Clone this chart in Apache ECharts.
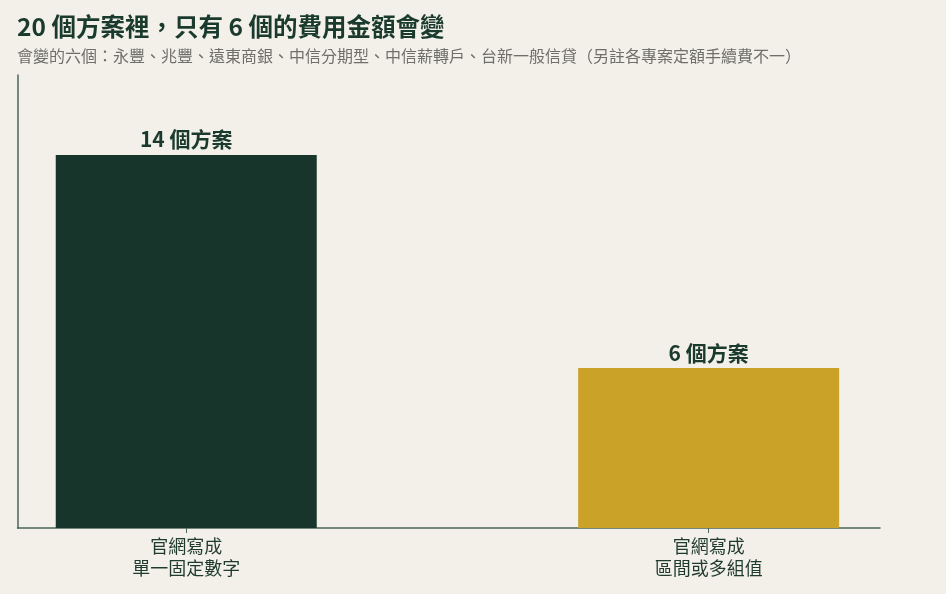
<!DOCTYPE html>
<html>
<head>
<meta charset="utf-8">
<script src="https://cdn.jsdelivr.net/npm/echarts@6/dist/echarts.min.js"></script>
<style>
html,body{margin:0;padding:0;background:#f3f0e9;}
#chart{width:946px;height:594px;}
</style>
</head>
<body>
<div id="chart"></div>
<script>
const categories = ['官網寫成\n單一固定數字', '官網寫成\n區間或多組值'];
const values = [14, 6];
const labelSuffix = ' 個方案';
const titleText = '20 個方案裡，只有 6 個的費用金額會變';
const subtitleText = '會變的六個：永豐、兆豐、遠東商銀、中信分期型、中信薪轉戶、台新一般信貸（另註各專案定額手續費不一）';

const palette = ['#17352b', '#c9a227'];
const FONT = '"Noto Sans CJK TC", "Noto Sans", sans-serif';

const chart = echarts.init(document.getElementById('chart'));
chart.setOption({
  backgroundColor: '#f3f0e9',
  textStyle: { fontFamily: FONT },
  title: {
    text: titleText,
    subtext: subtitleText,
    left: 12,
    top: 7,
    itemGap: 4,
    textStyle: { fontFamily: FONT, fontSize: 24.5, fontWeight: 'bold', color: '#1a3a2e', lineHeight: 30 },
    subtextStyle: { fontFamily: FONT, fontSize: 16, color: '#6f6f6a', lineHeight: 20 }
  },
  grid: { left: 17.5, right: 66, top: 75, bottom: 66, containLabel: false },
  xAxis: {
    type: 'value',
    min: -0.323,
    max: 1.328,
    splitLine: { show: false },
    axisLine: { show: true, onZero: false, lineStyle: { color: '#4a6656', width: 1.5 } },
    axisTick: { show: true, customValues: [0, 1], length: 5, lineStyle: { color: '#4a6656' } },
    axisLabel: {
      customValues: [0, 1],
      formatter: v => categories[Math.round(v)],
      margin: 7,
      fontFamily: FONT,
      fontSize: 18,
      lineHeight: 22,
      color: '#1f3a2e'
    }
  },
  yAxis: {
    type: 'value',
    min: 0,
    max: 17,
    splitLine: { show: false },
    axisLine: { show: true, onZero: false, lineStyle: { color: '#4a6656', width: 1.5 } },
    axisTick: { show: false },
    axisLabel: { show: false }
  },
  series: [{
    type: 'bar',
    barWidth: 261,
    data: values.map((v, i) => ({ value: [i, v], itemStyle: { color: palette[i] } })),
    label: {
      show: true,
      position: 'top',
      distance: 5,
      formatter: p => p.value[1] + labelSuffix,
      fontFamily: FONT,
      fontSize: 21,
      fontWeight: 'bold',
      color: '#1a3a2e'
    }
  }]
});
</script>
</body>
</html>
